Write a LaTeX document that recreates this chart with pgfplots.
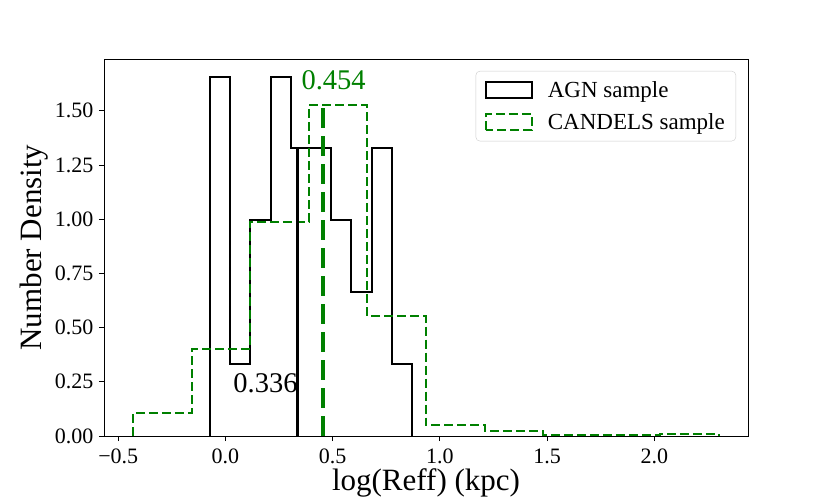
\documentclass[border=0pt]{standalone}
\usepackage{pgfplots}
\pgfplotsset{compat=1.18}
\usepackage{fontspec}
\setmainfont{Liberation Serif}
\definecolor{mplgreen}{RGB}{0,128,0}
\newcommand{\tickfont}{\fontsize{22bp}{26bp}\selectfont}
\newcommand{\legfont}{\fontsize{23bp}{27bp}\selectfont}
\newcommand{\labfont}{\fontsize{31bp}{36bp}\selectfont}
\newcommand{\annfont}{\fontsize{28.5bp}{33bp}\selectfont}
\begin{document}
\begin{tikzpicture}
\begin{axis}[
  scale only axis,
  width=644bp, height=377bp,
  xmin=-0.5665, xmax=2.4365,
  ymin=0, ymax=1.7387,
  axis line style={black, line width=0.9bp},
  tick pos=left,
  tick align=outside,
  major tick length=5bp,
  every tick/.style={black, line width=0.9bp},
  xtick={-0.5,0,0.5,1,1.5,2},
  xticklabels={−0.5,0.0,0.5,1.0,1.5,2.0},
  ytick={0,0.25,0.5,0.75,1,1.25,1.5},
  /pgf/number format/assume math mode=true,
  yticklabel style={/pgf/number format/fixed, /pgf/number format/fixed zerofill, /pgf/number format/precision=2, xshift=-2bp},
  ticklabel style={font=\tickfont},
  xticklabel style={inner sep=1bp, yshift=-6.3bp},
  xlabel={log(Reff) (kpc)},
  ylabel={Number Density},
  label style={font=\labfont},
  xlabel style={at={(axis description cs:0.5,-0.1446)}, anchor=base, inner sep=0pt},
  ylabel style={at={(axis description cs:-0.1087,0.5)}, anchor=center},
  legend cell align=left,
  legend style={at={(axis description cs:1,1)}, anchor=north east, xshift=-12bp, yshift=-12bp,
    draw=black!20, rounded corners=4bp, fill=white, font=\legfont,
    inner xsep=9bp, inner ysep=8bp, row sep=11bp},
  legend image code/.code={\draw[#1, sharp corners] (0bp,-8bp) rectangle (46bp,8bp); \path[draw=none] (0bp,0bp) -- (60bp,0bp);},
]
% AGN sample histogram (density, step)
\addplot[black, line width=2bp, const plot, line join=miter] coordinates {
  (-0.073,0) (-0.073,1.657) (0.021,0.331) (0.116,0.994) (0.210,1.657)
  (0.304,1.326) (0.398,1.326) (0.493,0.994) (0.587,0.663) (0.681,1.326)
  (0.775,0.331) (0.870,0)
};
\addlegendentry{AGN sample}
% CANDELS sample histogram
\addplot[mplgreen, line width=2bp, dash pattern=on 9bp off 4bp, const plot, line join=miter] coordinates {
  (-0.430,0) (-0.430,0.108) (-0.157,0.402) (0.116,0.989) (0.389,1.526)
  (0.662,0.553) (0.935,0.049) (1.208,0.0216) (1.481,0.0027) (1.754,0.0027)
  (2.027,0.0081) (2.300,0)
};
\addlegendentry{CANDELS sample}
% medians
\addplot[black, line width=3.5bp, forget plot] coordinates {(0.336,0) (0.336,1.326)};
\addplot[mplgreen, line width=4bp, dash pattern=on 20bp off 8bp, forget plot] coordinates {(0.454,0) (0.454,1.523)};
\node[anchor=base west, font=\annfont, black, inner sep=0pt] at (axis cs:0.036,0.2) {0.336};
\node[anchor=base west, font=\annfont, text=mplgreen, inner sep=0pt] at (axis cs:0.354,1.6) {0.454};
\coordinate (O) at (rel axis cs:0,0);
\end{axis}
\path[use as bounding box] (O) ++(-104bp,-62bp) rectangle ++(830bp,498bp);
\end{tikzpicture}
\end{document}
